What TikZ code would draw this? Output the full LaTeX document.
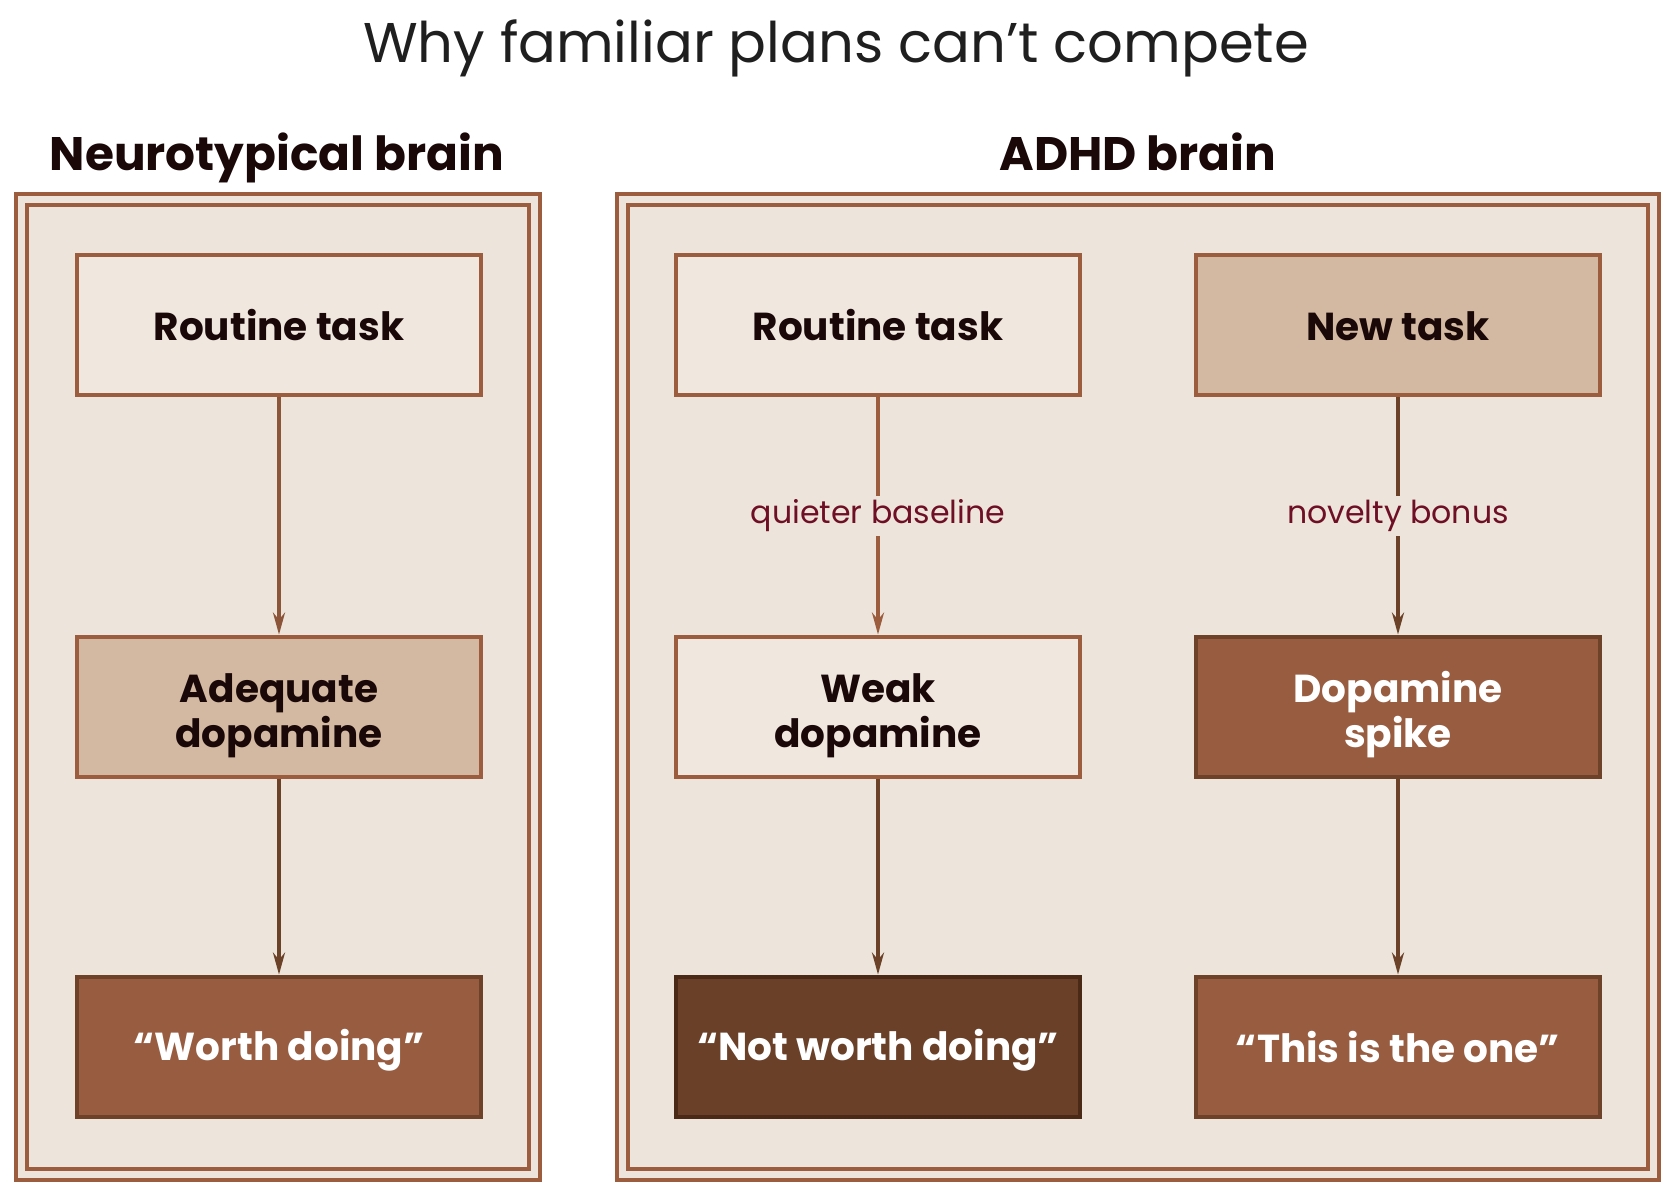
\documentclass[tikz,border=0pt]{standalone}
\usepackage{fontspec}
\setmainfont{Poppins}
\usetikzlibrary{arrows.meta}

\definecolor{paper}{HTML}{EDE5DC}
\definecolor{frame}{HTML}{9C5D3E}
\definecolor{cream}{HTML}{F0E7DF}
\definecolor{tanfill}{HTML}{D3B9A1}
\definecolor{rustfill}{HTML}{985C40}
\definecolor{rustdraw}{HTML}{6E4229}
\definecolor{darkfill}{HTML}{6A4028}
\definecolor{darkdraw}{HTML}{4A2A16}
\definecolor{arrowdk}{HTML}{6B4128}
\definecolor{ink}{HTML}{1A0808}
\definecolor{wine}{HTML}{6E0F25}

% two lines of box text, centred on the box
\newcommand{\pairtext}[2]{\raisebox{0pt}[42pt][1.5pt]{\begin{tabular}[b]{@{}c@{}}#1\\#2\end{tabular}}}

\begin{document}
\begin{tikzpicture}[x=0.5pt,y=-0.5pt,
	box/.style={draw=frame,line width=2.4pt,minimum width=202pt,minimum height=70pt,align=center,font=\bfseries\fontsize{19.5}{22.5}\selectfont},
	one/.style={execute at begin node=\rule{0pt}{19pt},execute at end node=\rule[-4pt]{0pt}{0pt}},
	lightbox/.style={box,fill=cream,text=ink},
	tanbox/.style={box,fill=tanfill,text=ink},
	rustbox/.style={box,fill=rustfill,draw=rustdraw,text=white},
	darkbox/.style={box,fill=darkfill,draw=darkdraw,text=white},
	flow/.style={-{Stealth[length=11pt,width=6pt]},line width=1.8pt,draw=arrowdk},
	note/.style={fill=paper,text=wine,font=\fontsize{15.8}{18}\selectfont,inner sep=2pt},
	head/.style={text=ink,anchor=base,font=\bfseries\fontsize{23.5}{27}\selectfont},
	panel/.style={draw=frame,line width=2.2pt}]
	\useasboundingbox (0,0) rectangle (1672,1190);

	% titles
	\node[text=black!88,font=\fontsize{28}{32}\selectfont] (title) at (836,48) {Why familiar plans can’t compete};
	\node[head] (hnt) at (277,170) {Neurotypical brain};
	\node[head] (hadhd) at (1138,170) {ADHD brain};

	% panels
	\draw[panel,fill=paper] (16,194) rectangle (540,1180);
	\draw[panel] (27,205) rectangle (529,1169);
	\draw[panel,fill=paper] (617,194) rectangle (1659,1180);
	\draw[panel] (628,205) rectangle (1648,1169);

	% neurotypical
	\node[lightbox,one] (nt1) at (279,325) {Routine task};
	\node[tanbox] (nt2) at (279,707) {\pairtext{Adequate}{dopamine}};
	\node[rustbox,one] (nt3) at (279,1047) {“Worth doing”};

	% adhd, routine
	\node[lightbox,one] (ad1) at (878,325) {Routine task};
	\node[lightbox] (ad2) at (878,707) {\pairtext{Weak}{dopamine}};
	\node[darkbox,one] (ad3) at (878,1047) {“Not worth doing”};

	% adhd, new
	\node[tanbox,one] (nw1) at (1398,325) {New task};
	\node[rustbox] (nw2) at (1398,707) {\pairtext{Dopamine}{spike}};
	\node[rustbox,one] (nw3) at (1398,1047) {“This is the one”};

	\draw[flow,draw=frame!90!black] (nt1) -- (nt2);
	\draw[flow] (nt2) -- (nt3);

	\draw[flow,draw=frame] (ad1) -- node[note] {quieter baseline} (ad2);
	\draw[flow] (ad2) -- (ad3);

	\draw[flow] (nw1) -- node[note] {novelty bonus} (nw2);
	\draw[flow] (nw2) -- (nw3);
\end{tikzpicture}
\end{document}
